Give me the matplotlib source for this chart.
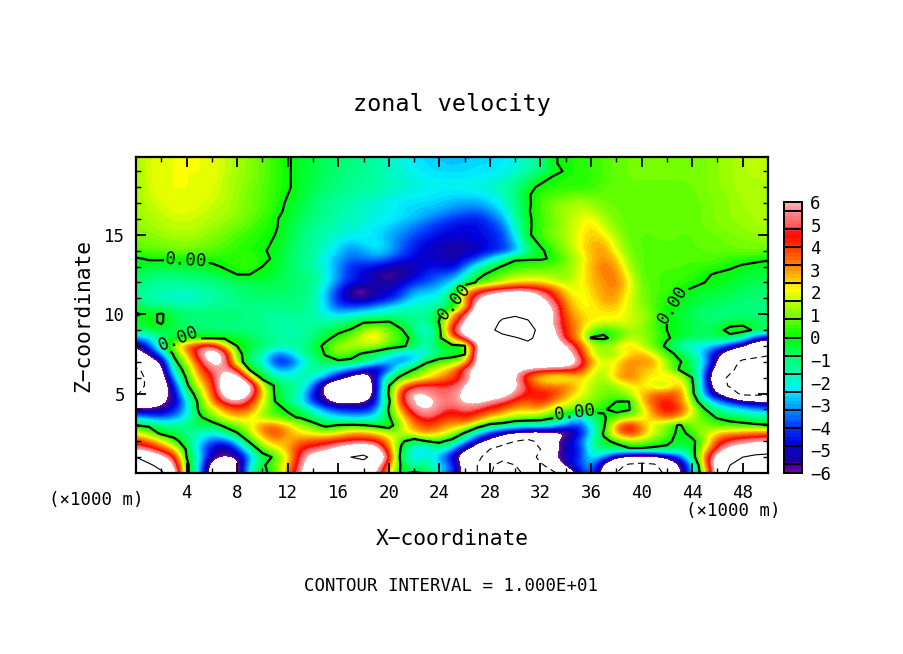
import numpy as np
import matplotlib
matplotlib.use("Agg")
import matplotlib.pyplot as plt
from matplotlib.colors import LinearSegmentedColormap, BoundaryNorm

plt.rcParams['font.family'] = ['DejaVu Sans Mono']

X_KM = list(range(0, 51))
Z_KM = [20, 19.5, 19, 18.5, 18, 17.5, 17, 16.5, 16, 15.5, 15, 14.5, 14, 13.5, 13, 12.5, 12, 11.5, 11, 10.5, 10,
        9.5, 9, 8.5, 8, 7.5, 7, 6.5, 6, 5.5, 5, 4.5, 4, 3.5, 3, 2.5, 2, 1.5, 1, 0.5, 0]

# zonal velocity, in tenths, one row per height, x = 0..50 km
U_TENTHS = [
 [13,18,20,20,20,20,20,17,14,11, 8,4,1,-3,-5,-7,-9,-10,-12,-15, -18,-21,-24,-26,-27,-29,-28,-26,-26,-24, -22,-18,-12,-1,2,3,4,6,8,9, 9,9,9,9,9,10,12,13,15,16, 16],
 [13,18,20,20,20,20,20,17,14,11, 8,4,1,-3,-5,-7,-9,-10,-12,-15, -18,-20,-23,-25,-26,-27,-26,-25,-25,-23, -21,-16,-11,-1,2,3,4,6,8,9, 9,9,9,9,9,10,12,13,15,16, 16],
 [13,18,20,20,20,20,20,17,14,11, 8,4,1,-3,-5,-7,-9,-11,-13,-15, -18,-20,-22,-24,-25,-25,-25,-24,-24,-22, -20,-15,-10,-3,1,3,4,6,8,9, 9,9,9,9,9,10,12,13,15,16, 16],
 [13,18,20,20,20,20,20,16,13,11, 8,4,1,-3,-5,-8,-10,-12,-13,-15, -17,-19,-21,-22,-23,-23,-23,-22,-21,-19, -15,-8,-3,2,3,3,4,6,8,9, 9,9,9,9,9,10,12,13,15,15, 15],
 [13,18,20,20,20,20,19,16,13,10, 7,4,1,-3,-6,-8,-10,-13,-14,-15, -17,-19,-20,-21,-22,-22,-21,-20,-19,-16, -12,-3,2,3,3,4,4,7,8,8, 8,8,8,8,9,10,12,13,15,15, 15],
 [13,17,20,20,20,20,18,16,13,9, 7,4,0,-3,-7,-10,-12,-14,-16,-17, -19,-21,-22,-23,-24,-25,-25,-24,-22,-18, -10,-1,4,6,7,9,8,8,8,8, 8,8,8,8,8,10,11,12,14,15, 15],
 [13,16,18,20,20,19,17,15,12,9, 7,3,-1,-5,-8,-12,-14,-16,-18,-20, -22,-24,-25,-25,-26,-28,-30,-30,-26,-20, -12,-2,6,10,12,15,12,9,8,8, 8,8,8,8,8,9,11,12,14,15, 15],
 [13,15,17,19,19,18,16,14,12,9, 6,3,-2,-6,-9,-12,-15,-17,-19,-20, -22,-24,-26,-28,-30,-33,-35,-36,-32,-25, -12,-1,5,10,14,17,16,11,9,8, 8,8,8,8,8,9,11,12,13,14, 15],
 [12,14,16,17,18,16,15,13,11,8, 5,1,-3,-6,-10,-13,-15,-17,-19,-21, -22,-25,-28,-32,-36,-40,-42,-44,-38,-30, -14,-2,5,9,14,18,22,14,9,8, 8,8,8,8,8,9,11,12,13,14, 14],
 [11,13,15,16,16,15,13,11,9,6, 3,1,-4,-8,-12,-15,-18,-19,-21,-23, -26,-30,-34,-38,-42,-46,-47,-47,-42,-36, -18,-2,5,9,14,19,25,18,11,8, 8,8,8,8,8,9,10,11,12,13, 14],
 [10,11,13,14,15,13,11,9,6,4, 2,0,-4,-9,-13,-16,-19,-21,-22,-25, -29,-33,-37,-42,-46,-48,-47,-46,-44,-40, -22,-2,6,10,15,20,26,22,13,8, 7,7,8,7,7,8,9,10,11,12, 13],
 [8,9,10,11,12,10,9,7,5,3, 2,-1,-5,-10,-14,-18,-23,-28,-24,-22, -28,-36,-42,-47,-50,-52,-52,-50,-45,-40, -28,-6,2,7,13,20,27,28,17,8, 7,7,7,7,7,8,8,9,10,10, 11],
 [7,7,8,9,9,8,7,5,3,2, 1,-2,-6,-10,-14,-20,-26,-33,-30,-24, -28,-36,-44,-50,-52,-54,-53,-50,-46,-42, -32,-12,-2,5,12,20,28,30,20,9, 7,7,7,7,7,7,8,8,9,9, 9],
 [-1,1,1,1,1,2,3,3,4,4, 3,-2,-6,-11,-15,-22,-30,-36,-34,-32, -36,-44,-48,-50,-50,-54,-46,-40,-25,-12, -1,-1,-1,1,8,15,26,32,26,12, 7,6,6,6,6,7,6,4,3,2, 1],
 [-2,-4,-4,-4,-3,-3,-2,1,4,5, 0,-3,-7,-11,-15,-22,-32,-42,-44,-46, -52,-54,-52,-46,-46,-50,-35,-18,-6,1, 3,5,6,8,10,18,28,34,30,14, 7,6,6,6,5,4,3,1,-1,-2, -3],
 [-6,-8,-9,-9,-8,-7,-6,-3,0,0, -1,-4,-7,-10,-13,-20,-32,-42,-48,-56, -58,-56,-50,-42,-38,-36,-22,-4,3,8, 12,14,14,12,11,18,26,33,33,18, 7,6,5,5,4,1,-1,-2,-3,-4, -5],
 [-10,-12,-14,-14,-13,-12,-11,-9,-7,-6, -5,-6,-7,-9,-12,-20,-34,-44,-48,-52, -56,-50,-42,-38,-32,-25,-12,2,8,16, 22,24,24,18,14,20,26,31,34,22, 8,6,5,4,2,0,-1,-3,-5,-6, -7],
 [-11,-14,-16,-17,-17,-15,-14,-11,-9,-8, -7,-7,-8,-9,-13,-26,-42,-58,-61,-52, -50,-42,-30,-28,-26,-15,25,40,50,55, 58,58,50,40,22,18,24,30,32,20, 10,6,5,1,-1,-3,-4,-5,-7,-8, -9],
 [-12,-16,-18,-20,-20,-18,-16,-13,-11,-9, -9,-9,-9,-10,-14,-26,-44,-54,-58,-50, -46,-36,-24,-22,-18,-3,30,58,70,80, 85,80,64,48,28,20,22,30,30,18, 10,6,3,-1,-3,-5,-6,-7,-8,-9, -10],
 [-5,-9,-11,-13,-14,-14,-13,-12,-11,-11, -12,-12,-11,-11,-14,-25,-40,-40,-38,-32, -26,-20,-16,-18,-16,-6,20,70,90,95, 95,90,72,60,32,22,20,26,26,18, 12,6,1,-2,-5,-7,-8,-9,-10,-11, -11],
 [1,-2,1,-5,-8,-9,-9,-9,-10,-10, -12,-14,-13,-13,-16,-22,-25,-22,-18,-16, -14,-14,-14,-14,-2,25,50,80,92,97, 97,90,80,62,36,25,22,22,22,18, 14,8,-1,-4,-7,-9,-10,-11,-11,-10, -9],
 [-4,-2,1,-6,-9,-10,-10,-10,-11,-11, -13,-15,-16,-15,-14,-14,-12,-8,-1,0, 1,-6,-12,-14,1,35,60,85,95,102, 108,104,78,58,40,28,22,20,20,18, 14,6,0,-2,-6,-8,-9,-4,-3,-8, -8],
 [-7,-4,-3,-6,-8,-8,-8,-9,-10,-10, -12,-14,-16,-15,-12,-8,-3,1,14,18, 12,1,-10,-26,-4,50,72,92,95,108, 115,112,92,62,42,30,10,3,6,14, 12,6,0,-3,-6,-7,-3,3,4,-2, -4],
 [-32,-24,-13,-3,-2,-2,-2,-2,-3,-6, -10,-14,-16,-15,-10,-3,4,10,20,26, 8,5,-4,-18,-4,30,55,80,90,92, 98,105,92,70,42,30,-1,-2,4,14, 14,8,1,-3,-6,-7,-8,-3,-15,-40, -50],
 [-60,-40,-8,15,38,50,55,25,0,-3, -8,-12,-14,-13,-6,3,15,15,16,14, 8,3,-6,-18,-2,-5,-2,58,85,90, 92,92,90,80,62,42,18,12,20,28, 16,6,-2,-18,-22,-25,-28,-45,-58,-80, -90],
 [-70,-58,-30,3,25,55,75,60,5,-8, -14,-36,-30,-14,-8,1,12,5,-2,-8, -18,-26,-28,-22,-8,-6,-2,70,85,90, 90,90,90,85,72,50,18,10,14,20, 30,18,4,-3,-14,-30,-55,-75,-85,-90, -95],
 [-85,-75,-60,-5,15,43,68,62,8,-10, -20,-42,-44,-28,-14,-4,-3,-3,-8,-20, -30,-35,-25,-2,5,8,20,65,85,88, 90,90,88,85,80,60,30,18,22,35, 30,32,12,1,-6,-25,-60,-90,-105,-110, -115],
 [-105,-90,-68,-15,8,35,52,60,48,-1, -8,-28,-30,-18,-10,-20,-26,-35,-45,-58, -40,-8,1,15,22,30,55,70,85,85, 65,55,50,48,48,45,22,14,24,32, 26,24,14,-1,-6,-32,-75,-95,-110,-112, -115],
 [-110,-95,-75,-28,2,28,44,70,75,30, -5,-12,-18,-16,-20,-28,-50,-64,-80,-45, -8,3,12,20,28,38,48,72,95,90, 60,35,20,15,15,25,18,12,28,35, 26,20,28,22,0,-35,-88,-105,-112,-115, -115],
 [-110,-95,-78,-45,-3,20,38,75,90,70, 18,-2,-12,-14,-32,-70,-85,-90,-85,-50, -1,30,46,50,50,48,58,80,85,80, 65,44,34,32,35,24,15,10,12,20, 24,15,10,30,3,-32,-80,-105,-115,-118, -118],
 [-105,-85,-70,-52,-12,10,35,68,85,62, 25,-2,-10,-18,-45,-62,-85,-95,-90,-45, 2,45,65,58,50,52,65,85,80,72, 55,45,46,44,30,22,15,8,10,15, 25,35,38,38,5,-35,-58,-80,-110,-112, -108],
 [-85,-75,-65,-55,-25,5,30,52,58,45, 20,0,-8,-22,-42,-56,-68,-62,-62,-45, -4,45,62,70,55,54,63,65,55,50, 42,34,46,32,22,15,10,7,0,0, 25,40,45,35,12,-15,-30,-40,-50,-55, -60],
 [-55,-58,-55,-45,-25,3,15,30,40,35, 15,3,-1,-5,-20,-32,-40,-43,-45,-35, 2,32,55,62,52,46,52,48,42,36, 25,28,27,15,12,10,6,1,-3,-1, 15,35,50,42,20,1,-15,-20,-25,-30, -32],
 [-28,-32,-38,-32,-22,-3,10,20,25,22, 10,8,2,-1,-8,-18,-24,-26,-26,-20, -2,20,42,52,45,38,45,38,25,20, 12,12,8,2,-10,-30,-10,-1,5,12, 18,28,36,28,15,5,-1,-4,-6,-10, -12],
 [0,-2,-10,-12,-10,-4,-8,3,10,18, 35,35,25,15,5,-3,1,2,1,-3, -8,15,32,40,35,28,28,10,-5,-8, -14,-18,-14,-20,-34,-42,-20,-3,32,50, 30,16,8,-2,12,10,6,4,3,2, 1],
 [20,10,-3,-5,-12,-18,-22,-12,-1,15, 30,42,30,22,20,15,20,30,30,25, 15,15,25,32,25,15,-2,-25,-40,-55, -60,-65,-70,-70,-65,-50,-25,2,30,46, 32,18,10,-5,5,15,25,30,32,35, 35],
 [42,36,22,4,-6,-24,-38,-40,-22,3, 20,30,25,35,38,42,46,48,48,45, 30,3,-10,0,3,-5,-25,-50,-65,-80, -100,-110,-90,-65,-50,-40,-15,-3,3,12, 12,5,2,-3,-3,10,40,50,55,58, 60],
 [55,50,40,25,-2,-28,-48,-60,-40,-15, 8,18,28,46,50,55,65,75,85,70, 35,-3,-25,-28,-12,-30,-55,-75,-100,-120, -120,-120,-100,-70,-50,-48,-15,-8,-6,-2, -2,-2,-2,-8,-5,20,50,65,70,75, 85],
 [100,85,65,48,0,-20,-55,-58,-60,-30, -8,3,20,50,70,80,90,100,105,90, 50,-8,-25,-15,-30,-50,-75,-95,-110,-120, -120,-120,-90,-60,-50,-45,-18,-30,-55,-65, -70,-65,-55,-40,-10,35,70,90,100,110, 110],
 [115,105,90,60,5,-25,-70,-85,-70,-20, -3,10,25,55,75,80,90,90,90,70, 35,-3,-20,-8,-25,-35,-70,-100,-110,-80, -100,-110,-105,-85,-50,-40,-25,-65,-90,-105, -110,-105,-80,-60,-30,30,75,100,110,120, 120],
 [125,118,105,75,5,-25,-75,-90,-70,-15, -2,3,30,60,80,85,90,90,85,60, 25,-3,3,-3,-25,-40,-70,-100,-110,-50, -90,-110,-120,-105,-85,-50,-30,-70,-100,-120, -125,-120,-90,-65,-30,20,70,110,120,125, 125],
]

CMAP_VALUES = [-6, -5.6, -4.8, -4, -3.2, -2.4, -1.6, -0.8, 0, 0.8, 1.6, 2.1, 2.4, 3.2, 4, 4.6, 5, 6]
CMAP_COLORS = ['#6e00aa', '#1e0096', '#0000dc', '#003cff', '#0096ff', '#00f0ff', '#00ffaa', '#00ff64',
               '#00ff00', '#64ff00', '#beff00', '#ffff00', '#ffdc00', '#ff8200', '#ff3c00', '#ff0000',
               '#ff5a5a', '#ffaaaa']
CBAR_SEPARATORS = [5.6, 4.8, 4, 3.2, 2.4, 1.6, 0.8, 0, -0.8, -1.6, -2.4, -3.2, -4, -4.8, -5.6]
CBAR_TICKS = [6, 5, 4, 3, 2, 1, 0, -1, -2, -3, -4, -5, -6]
X_TICKS = [4, 8, 12, 16, 20, 24, 28, 32, 36, 40, 44, 48]
Z_TICKS = [5, 10, 15]

W, H = 904, 654
fig = plt.figure(figsize=(W / 100, H / 100), dpi=100, facecolor='white')


def axes_px(x0, y0, x1, y1):
    return fig.add_axes([x0 / W, 1 - y1 / H, (x1 - x0) / W, (y1 - y0) / H])


U = np.array(U_TENTHS, dtype=float) / 10.0
x = np.array(X_KM, dtype=float)
z = np.array(Z_KM, dtype=float)

stops = [(v + 6) / 12 for v in CMAP_VALUES]
cmap = LinearSegmentedColormap.from_list('ncl', list(zip(stops, CMAP_COLORS)), N=256)
cmap.set_over('white')
cmap.set_under('white')
levels = np.linspace(-6, 6, 76)
norm = BoundaryNorm(levels, cmap.N, extend='neither')

ax = axes_px(136, 157, 768, 473)
ax.imshow(U, origin='upper', extent=(x[0] - 0.5, x[-1] + 0.5, z[-1] - 0.25, z[0] + 0.25), aspect='auto',
          cmap=cmap, norm=norm, interpolation='bicubic', interpolation_stage='data')
ax.contour(x, z, U, levels=[-10], colors='k', linewidths=0.8, linestyles=[(0, (6, 4))])
ax.contour(x, z, U, levels=[10], colors='k', linewidths=0.8, linestyles='solid')
cs = ax.contour(x, z, U, levels=[0], colors='k', linewidths=1.6, linestyles='solid')
ax.clabel(cs, fmt='%.2f', fontsize=12.5, inline=True, inline_spacing=1,
          manual=[(4, 13.5), (3.4, 8.3), (24.8, 10.7), (42.5, 10.6), (34.7, 3.9)])

ax.set_xlim(0, 50)
ax.set_ylim(0, 19.9)
ax.set_xticks(X_TICKS)
ax.set_xticks(np.arange(2, 50, 4), minor=True)
ax.set_yticks(Z_TICKS)
ax.set_yticks([v for v in range(1, 20) if v % 5], minor=True)
ax.tick_params(which='major', direction='in', length=7, width=1.3, top=True, right=True,
               labelsize=12.5, pad=8)
ax.tick_params(which='minor', direction='in', length=3.5, width=1, top=True, right=True)
for s in ax.spines.values():
    s.set_linewidth(1.6)

# colour bar
cax = axes_px(784, 202, 802, 473)
vals = np.linspace(-6, 6, 301)
cax.pcolormesh([0, 1], vals, (vals[:-1] + vals[1:]).reshape(-1, 1) / 2, cmap=cmap, norm=norm,
               shading='flat')
for v in CBAR_SEPARATORS:
    cax.axhline(v, color='k', lw=1.4)
cax.set_xlim(0, 1)
cax.set_ylim(-6, 6)
cax.set_xticks([])
cax.yaxis.tick_right()
cax.set_yticks(CBAR_TICKS)
cax.set_yticklabels([str(v).replace('-', '\u2212') for v in CBAR_TICKS])
cax.tick_params(axis='y', length=0, labelsize=12.5, pad=6)
for s in cax.spines.values():
    s.set_linewidth(1.4)


def label(px, py, text, size, **kw):
    fig.text(px / W, 1 - py / H, text, fontsize=size, ha='center', va='center', **kw)


label(452, 104, 'zonal velocity', 16.8)
label(452, 539, 'X\u2212coordinate', 15.3)
label(83, 315, 'Z\u2212coordinate', 15.3, rotation=90)
label(96, 500, '(\u00d71000 m)', 12.5)
label(733, 511, '(\u00d71000 m)', 12.5)
label(451, 586, 'CONTOUR INTERVAL = 1.000E+01', 12.5)

fig.savefig('out.png', dpi=100)
